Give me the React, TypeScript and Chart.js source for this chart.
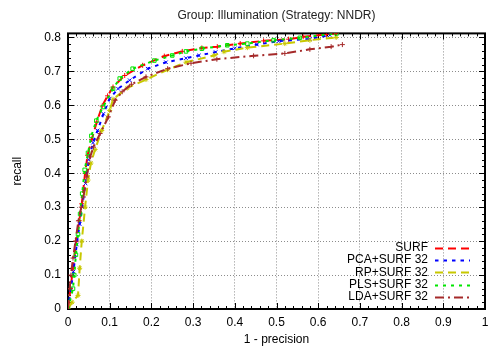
import React, { useEffect, useRef } from 'react';
import { Chart, registerables } from 'chart.js';

Chart.register(...registerables);

const TITLE = 'Group: Illumination (Strategy: NNDR)';
const X_LABEL = '1 - precision';
const Y_LABEL = 'recall';
const SERIES_NAMES = ['SURF', 'PCA+SURF 32', 'RP+SURF 32', 'PLS+SURF 32', 'LDA+SURF 32'];

const surfX = [0, 0.006, 0.012, 0.02, 0.027, 0.033, 0.041, 0.047, 0.057, 0.069, 0.082, 0.095, 0.108, 0.136, 0.179, 0.231, 0.274, 0.321, 0.358, 0.413, 0.469, 0.529, 0.564, 0.62, 0.644];
const surfY = [0, 0.06, 0.12, 0.2, 0.26, 0.31, 0.4, 0.453, 0.5, 0.551, 0.598, 0.628, 0.654, 0.688, 0.718, 0.745, 0.759, 0.769, 0.773, 0.782, 0.79, 0.795, 0.802, 0.809, 0.812];

const pcaX = [0, 0.007, 0.013, 0.021, 0.028, 0.034, 0.042, 0.05, 0.06, 0.071, 0.085, 0.1, 0.12, 0.148, 0.191, 0.235, 0.283, 0.314, 0.354, 0.4, 0.453, 0.505, 0.58, 0.628];
const pcaY = [0, 0.06, 0.11, 0.19, 0.25, 0.3, 0.37, 0.44, 0.49, 0.526, 0.575, 0.62, 0.649, 0.674, 0.708, 0.727, 0.739, 0.747, 0.757, 0.768, 0.779, 0.789, 0.796, 0.807];

const rpX = [0, 0.01, 0.024, 0.028, 0.033, 0.041, 0.048, 0.055, 0.065, 0.081, 0.1, 0.108, 0.142, 0.187, 0.239, 0.283, 0.35, 0.374, 0.43, 0.52, 0.58, 0.643];
const rpY = [0, 0.02, 0.04, 0.12, 0.2, 0.3, 0.38, 0.43, 0.47, 0.526, 0.585, 0.618, 0.651, 0.676, 0.705, 0.727, 0.747, 0.758, 0.77, 0.782, 0.792, 0.8];

const plsX = [0, 0.012, 0.015, 0.019, 0.024, 0.029, 0.034, 0.04, 0.048, 0.056, 0.068, 0.084, 0.108, 0.124, 0.155, 0.207, 0.25, 0.283, 0.321, 0.382, 0.43, 0.493, 0.556, 0.644];
const plsY = [0, 0.06, 0.1, 0.16, 0.22, 0.28, 0.34, 0.41, 0.46, 0.51, 0.555, 0.595, 0.649, 0.679, 0.708, 0.732, 0.747, 0.759, 0.767, 0.777, 0.782, 0.792, 0.799, 0.812];

const ldaX = [0, 0.004, 0.007, 0.012, 0.018, 0.025, 0.032, 0.037, 0.045, 0.053, 0.061, 0.077, 0.097, 0.113, 0.13, 0.152, 0.187, 0.239, 0.295, 0.357, 0.445, 0.52, 0.58, 0.631, 0.658];
const ldaY = [0, 0.06, 0.1, 0.15, 0.2, 0.26, 0.3, 0.33, 0.389, 0.448, 0.477, 0.517, 0.566, 0.615, 0.64, 0.662, 0.684, 0.708, 0.724, 0.736, 0.746, 0.753, 0.765, 0.773, 0.779];

const X_TICKS = [0, 0.1, 0.2, 0.3, 0.4, 0.5, 0.6, 0.7, 0.8, 0.9, 1];
const Y_TICKS = [0, 0.1, 0.2, 0.3, 0.4, 0.5, 0.6, 0.7, 0.8];

const SERIES_X = [surfX, pcaX, rpX, plsX, ldaX];
const SERIES_Y = [surfY, pcaY, rpY, plsY, ldaY];
const COLORS = ['#ff0000', '#0000ff', '#c8c800', '#00e600', '#a52a2a'];
const DASHES = [[8, 5], [3.5, 5], [8, 5], [3, 5], [9, 4, 2, 4]];
const POINT_STYLES = ['cross', 'crossRot', 'star', 'rect', 'cross'];

const FONT = 'Liberation Sans, Arial, Helvetica, sans-serif';

const fmt = (v: any) => String(+Number(v).toFixed(2));

const framePlugin = {
  id: 'gnuFrame',
  beforeDatasetsDraw(chart: any) {
    const { ctx, chartArea, scales } = chart;
    const { left, right, top, bottom } = chartArea;
    const xs = scales.x;
    const ys = scales.y;
    ctx.save();
    ctx.strokeStyle = '#000';
    ctx.lineWidth = 1;
    ctx.beginPath();
    for (let i = 0; i <= 50; i++) {
      const v = i * 0.02;
      const px = Math.round(xs.getPixelForValue(v)) + 0.5;
      const len = i % 5 === 0 ? 6 : 3;
      ctx.moveTo(px, bottom);
      ctx.lineTo(px, bottom - len);
      ctx.moveTo(px, top);
      ctx.lineTo(px, top + len);
    }
    for (let i = 0; i <= 40; i++) {
      const v = i * 0.02;
      const py = Math.round(ys.getPixelForValue(v)) + 0.5;
      const len = i % 5 === 0 ? 6 : 3;
      ctx.moveTo(left, py);
      ctx.lineTo(left + len, py);
      ctx.moveTo(right, py);
      ctx.lineTo(right - len, py);
    }
    ctx.stroke();
    ctx.lineWidth = 2;
    ctx.strokeRect(left, top, right - left, bottom - top);
    ctx.restore();
  },
  afterDatasetsDraw(chart: any) {
    const { ctx, chartArea } = chart;
    const { right, bottom } = chartArea;
    ctx.save();
    ctx.font = `12px ${FONT}`;
    ctx.textAlign = 'right';
    ctx.textBaseline = 'middle';
    SERIES_NAMES.forEach((name, i) => {
      const cy = bottom - 61.5 + i * 12.4;
      ctx.fillStyle = '#000';
      ctx.fillText(name, right - 57, cy);
      ctx.strokeStyle = COLORS[i];
      ctx.lineWidth = 2;
      ctx.setLineDash(DASHES[i]);
      ctx.beginPath();
      ctx.moveTo(right - 50, Math.round(cy) + 0.5);
      ctx.lineTo(right - 15, Math.round(cy) + 0.5);
      ctx.stroke();
    });
    ctx.restore();
  },
};

export default function App() {
  const ref = useRef<HTMLCanvasElement>(null);
  useEffect(() => {
    const canvas = ref.current;
    if (!canvas) return;
    const datasets = SERIES_NAMES.map((name, i) => ({
      label: name,
      data: SERIES_X[i].map((x, j) => ({ x, y: SERIES_Y[i][j] })),
      showLine: true,
      borderColor: COLORS[i],
      backgroundColor: COLORS[i],
      borderWidth: 2,
      borderDash: DASHES[i],
      pointStyle: POINT_STYLES[i],
      pointRadius: 2.5,
      pointBorderWidth: 1,
      pointBorderColor: COLORS[i],
      pointBackgroundColor: 'rgba(0,0,0,0)',
      tension: 0,
      order: SERIES_NAMES.length - i,
    }));
    const tickFont = { family: FONT, size: 12 };
    const chart = new Chart(canvas, {
      type: 'scatter',
      data: { datasets },
      plugins: [framePlugin],
      options: {
        animation: false,
        responsive: false,
        layout: { padding: { left: 0, right: 2, top: 0, bottom: 0 } },
        plugins: {
          legend: { display: false },
          tooltip: { enabled: false },
          title: {
            display: true,
            fullSize: false,
            text: TITLE,
            color: '#222',
            font: { family: FONT, size: 12, weight: 'normal' },
            padding: { top: 8, bottom: 11 },
          },
        },
        scales: {
          x: {
            type: 'linear',
            min: X_TICKS[0],
            max: X_TICKS[X_TICKS.length - 1],
            afterBuildTicks: (s: any) => { s.ticks = X_TICKS.map((v) => ({ value: v })); },
            afterFit: (s: any) => { s.height = 43; s.paddingLeft = 0; s.paddingRight = 0; },
            ticks: { color: '#000', font: tickFont, padding: 6, maxRotation: 0, autoSkip: false, callback: fmt },
            grid: { color: '#8c8c8c', lineWidth: 1, drawTicks: false },
            border: { display: false, dash: [1, 2] },
            title: { display: true, text: X_LABEL, color: '#000', font: tickFont, padding: { top: 0, bottom: 5 } },
          },
          y: {
            type: 'linear',
            min: 0,
            max: 0.812,
            afterBuildTicks: (s: any) => { s.ticks = Y_TICKS.map((v) => ({ value: v })); },
            afterFit: (s: any) => { s.width = 68; s.paddingTop = 0; s.paddingBottom = 0; },
            ticks: { color: '#000', font: tickFont, padding: 7, autoSkip: false, callback: fmt },
            grid: { color: '#8c8c8c', lineWidth: 1, drawTicks: false },
            border: { display: false, dash: [1, 2] },
            title: { display: true, text: Y_LABEL, color: '#000', font: tickFont, padding: { top: 10, bottom: 0 } },
          },
        },
      } as any,
    });
    return () => chart.destroy();
  }, []);
  return (
    <div style={{ position: 'fixed', left: 0, top: 0, width: 490, height: 352, background: '#fff' }}>
      <canvas ref={ref} width={490} height={352} />
    </div>
  );
}
